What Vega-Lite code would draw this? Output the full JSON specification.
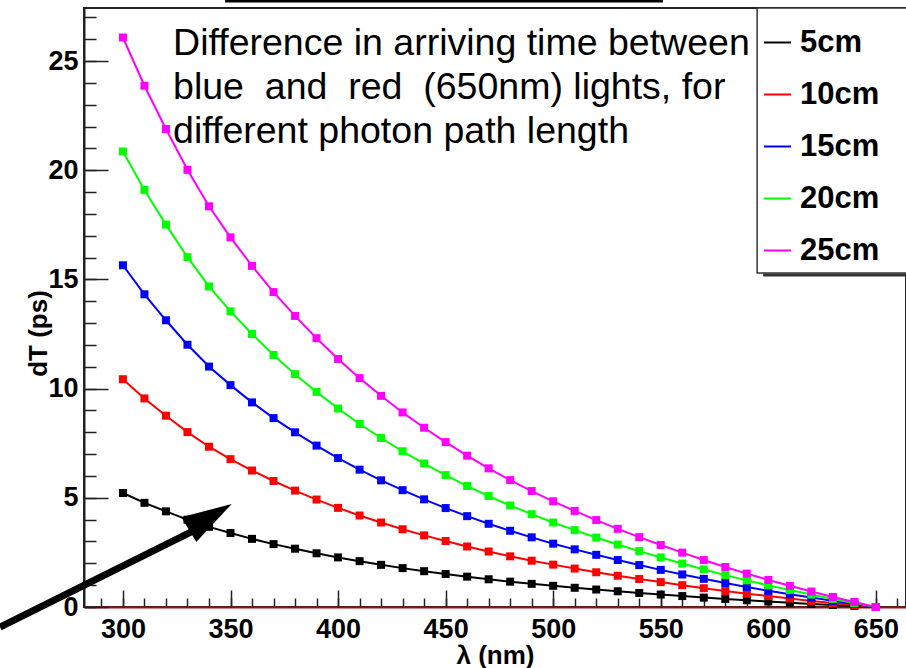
{
 "$schema": "https://vega.github.io/schema/vega-lite/v6.json",
 "width": 822,
 "height": 599,
 "autosize": {"type": "none"},
 "padding": {"left": 84, "top": 8, "right": 0, "bottom": 61},
 "background": "white",
 "config": {"view": {"stroke": "#222", "strokeWidth": 2}, "font": "Liberation Sans"},
 "datasets": {
  "curves": [
   {"lambda":300,"length":"5cm","dT":5.22},{"lambda":310,"length":"5cm","dT":4.77},{"lambda":320,"length":"5cm","dT":4.38},{"lambda":330,"length":"5cm","dT":4.00},{"lambda":340,"length":"5cm","dT":3.67},{"lambda":350,"length":"5cm","dT":3.39},{"lambda":360,"length":"5cm","dT":3.12},{"lambda":370,"length":"5cm","dT":2.88},{"lambda":380,"length":"5cm","dT":2.67},{"lambda":390,"length":"5cm","dT":2.46},{"lambda":400,"length":"5cm","dT":2.27},{"lambda":410,"length":"5cm","dT":2.10},{"lambda":420,"length":"5cm","dT":1.93},{"lambda":430,"length":"5cm","dT":1.78},{"lambda":440,"length":"5cm","dT":1.64},{"lambda":450,"length":"5cm","dT":1.51},{"lambda":460,"length":"5cm","dT":1.39},{"lambda":470,"length":"5cm","dT":1.27},{"lambda":480,"length":"5cm","dT":1.16},{"lambda":490,"length":"5cm","dT":1.06},{"lambda":500,"length":"5cm","dT":0.97},{"lambda":510,"length":"5cm","dT":0.88},{"lambda":520,"length":"5cm","dT":0.80},{"lambda":530,"length":"5cm","dT":0.72},{"lambda":540,"length":"5cm","dT":0.64},{"lambda":550,"length":"5cm","dT":0.57},{"lambda":560,"length":"5cm","dT":0.50},{"lambda":570,"length":"5cm","dT":0.43},{"lambda":580,"length":"5cm","dT":0.37},{"lambda":590,"length":"5cm","dT":0.31},{"lambda":600,"length":"5cm","dT":0.25},{"lambda":610,"length":"5cm","dT":0.19},{"lambda":620,"length":"5cm","dT":0.14},{"lambda":630,"length":"5cm","dT":0.09},{"lambda":640,"length":"5cm","dT":0.05},{"lambda":650,"length":"5cm","dT":0},
   {"lambda":300,"length":"10cm","dT":10.43},{"lambda":310,"length":"10cm","dT":9.55},{"lambda":320,"length":"10cm","dT":8.76},{"lambda":330,"length":"10cm","dT":8.01},{"lambda":340,"length":"10cm","dT":7.34},{"lambda":350,"length":"10cm","dT":6.77},{"lambda":360,"length":"10cm","dT":6.25},{"lambda":370,"length":"10cm","dT":5.77},{"lambda":380,"length":"10cm","dT":5.33},{"lambda":390,"length":"10cm","dT":4.92},{"lambda":400,"length":"10cm","dT":4.54},{"lambda":410,"length":"10cm","dT":4.19},{"lambda":420,"length":"10cm","dT":3.87},{"lambda":430,"length":"10cm","dT":3.56},{"lambda":440,"length":"10cm","dT":3.28},{"lambda":450,"length":"10cm","dT":3.02},{"lambda":460,"length":"10cm","dT":2.77},{"lambda":470,"length":"10cm","dT":2.54},{"lambda":480,"length":"10cm","dT":2.32},{"lambda":490,"length":"10cm","dT":2.12},{"lambda":500,"length":"10cm","dT":1.94},{"lambda":510,"length":"10cm","dT":1.76},{"lambda":520,"length":"10cm","dT":1.59},{"lambda":530,"length":"10cm","dT":1.43},{"lambda":540,"length":"10cm","dT":1.28},{"lambda":550,"length":"10cm","dT":1.14},{"lambda":560,"length":"10cm","dT":1.00},{"lambda":570,"length":"10cm","dT":0.86},{"lambda":580,"length":"10cm","dT":0.73},{"lambda":590,"length":"10cm","dT":0.61},{"lambda":600,"length":"10cm","dT":0.50},{"lambda":610,"length":"10cm","dT":0.39},{"lambda":620,"length":"10cm","dT":0.28},{"lambda":630,"length":"10cm","dT":0.18},{"lambda":640,"length":"10cm","dT":0.09},{"lambda":650,"length":"10cm","dT":0},
   {"lambda":300,"length":"15cm","dT":15.65},{"lambda":310,"length":"15cm","dT":14.32},{"lambda":320,"length":"15cm","dT":13.13},{"lambda":330,"length":"15cm","dT":12.01},{"lambda":340,"length":"15cm","dT":11.01},{"lambda":350,"length":"15cm","dT":10.16},{"lambda":360,"length":"15cm","dT":9.37},{"lambda":370,"length":"15cm","dT":8.65},{"lambda":380,"length":"15cm","dT":8.00},{"lambda":390,"length":"15cm","dT":7.39},{"lambda":400,"length":"15cm","dT":6.82},{"lambda":410,"length":"15cm","dT":6.29},{"lambda":420,"length":"15cm","dT":5.80},{"lambda":430,"length":"15cm","dT":5.35},{"lambda":440,"length":"15cm","dT":4.93},{"lambda":450,"length":"15cm","dT":4.53},{"lambda":460,"length":"15cm","dT":4.16},{"lambda":470,"length":"15cm","dT":3.81},{"lambda":480,"length":"15cm","dT":3.49},{"lambda":490,"length":"15cm","dT":3.19},{"lambda":500,"length":"15cm","dT":2.90},{"lambda":510,"length":"15cm","dT":2.64},{"lambda":520,"length":"15cm","dT":2.39},{"lambda":530,"length":"15cm","dT":2.15},{"lambda":540,"length":"15cm","dT":1.92},{"lambda":550,"length":"15cm","dT":1.70},{"lambda":560,"length":"15cm","dT":1.49},{"lambda":570,"length":"15cm","dT":1.29},{"lambda":580,"length":"15cm","dT":1.10},{"lambda":590,"length":"15cm","dT":0.92},{"lambda":600,"length":"15cm","dT":0.74},{"lambda":610,"length":"15cm","dT":0.58},{"lambda":620,"length":"15cm","dT":0.43},{"lambda":630,"length":"15cm","dT":0.28},{"lambda":640,"length":"15cm","dT":0.14},{"lambda":650,"length":"15cm","dT":0},
   {"lambda":300,"length":"20cm","dT":20.86},{"lambda":310,"length":"20cm","dT":19.10},{"lambda":320,"length":"20cm","dT":17.51},{"lambda":330,"length":"20cm","dT":16.02},{"lambda":340,"length":"20cm","dT":14.68},{"lambda":350,"length":"20cm","dT":13.54},{"lambda":360,"length":"20cm","dT":12.50},{"lambda":370,"length":"20cm","dT":11.54},{"lambda":380,"length":"20cm","dT":10.66},{"lambda":390,"length":"20cm","dT":9.85},{"lambda":400,"length":"20cm","dT":9.09},{"lambda":410,"length":"20cm","dT":8.38},{"lambda":420,"length":"20cm","dT":7.74},{"lambda":430,"length":"20cm","dT":7.13},{"lambda":440,"length":"20cm","dT":6.57},{"lambda":450,"length":"20cm","dT":6.04},{"lambda":460,"length":"20cm","dT":5.54},{"lambda":470,"length":"20cm","dT":5.08},{"lambda":480,"length":"20cm","dT":4.65},{"lambda":490,"length":"20cm","dT":4.25},{"lambda":500,"length":"20cm","dT":3.87},{"lambda":510,"length":"20cm","dT":3.52},{"lambda":520,"length":"20cm","dT":3.18},{"lambda":530,"length":"20cm","dT":2.86},{"lambda":540,"length":"20cm","dT":2.56},{"lambda":550,"length":"20cm","dT":2.27},{"lambda":560,"length":"20cm","dT":1.99},{"lambda":570,"length":"20cm","dT":1.72},{"lambda":580,"length":"20cm","dT":1.46},{"lambda":590,"length":"20cm","dT":1.22},{"lambda":600,"length":"20cm","dT":0.99},{"lambda":610,"length":"20cm","dT":0.78},{"lambda":620,"length":"20cm","dT":0.57},{"lambda":630,"length":"20cm","dT":0.37},{"lambda":640,"length":"20cm","dT":0.18},{"lambda":650,"length":"20cm","dT":0},
   {"lambda":300,"length":"25cm","dT":26.08},{"lambda":310,"length":"25cm","dT":23.87},{"lambda":320,"length":"25cm","dT":21.89},{"lambda":330,"length":"25cm","dT":20.02},{"lambda":340,"length":"25cm","dT":18.35},{"lambda":350,"length":"25cm","dT":16.93},{"lambda":360,"length":"25cm","dT":15.62},{"lambda":370,"length":"25cm","dT":14.42},{"lambda":380,"length":"25cm","dT":13.33},{"lambda":390,"length":"25cm","dT":12.31},{"lambda":400,"length":"25cm","dT":11.36},{"lambda":410,"length":"25cm","dT":10.48},{"lambda":420,"length":"25cm","dT":9.67},{"lambda":430,"length":"25cm","dT":8.91},{"lambda":440,"length":"25cm","dT":8.21},{"lambda":450,"length":"25cm","dT":7.55},{"lambda":460,"length":"25cm","dT":6.93},{"lambda":470,"length":"25cm","dT":6.35},{"lambda":480,"length":"25cm","dT":5.81},{"lambda":490,"length":"25cm","dT":5.31},{"lambda":500,"length":"25cm","dT":4.84},{"lambda":510,"length":"25cm","dT":4.40},{"lambda":520,"length":"25cm","dT":3.98},{"lambda":530,"length":"25cm","dT":3.58},{"lambda":540,"length":"25cm","dT":3.20},{"lambda":550,"length":"25cm","dT":2.84},{"lambda":560,"length":"25cm","dT":2.49},{"lambda":570,"length":"25cm","dT":2.15},{"lambda":580,"length":"25cm","dT":1.83},{"lambda":590,"length":"25cm","dT":1.53},{"lambda":600,"length":"25cm","dT":1.24},{"lambda":610,"length":"25cm","dT":0.97},{"lambda":620,"length":"25cm","dT":0.71},{"lambda":630,"length":"25cm","dT":0.46},{"lambda":640,"length":"25cm","dT":0.23},{"lambda":650,"length":"25cm","dT":0}
  ]
 },
 "resolve": {"axis": {"x": "independent", "y": "independent"}},
 "layer": [
  {
   "data": {"name": "curves"},
   "mark": {"type": "line", "strokeWidth": 2},
   "encoding": {
    "x": {"field": "lambda", "type": "quantitative",
     "scale": {"domain": [281.9, 664], "nice": false, "zero": false},
     "axis": {"orient": "bottom", "offset": -9, "values": [290,300,310,320,330,340,350,360,370,380,390,400,410,420,430,440,450,460,470,480,490,500,510,520,530,540,550,560,570,580,590,600,610,620,630,640,650,660],
      "tickSize": 9, "tickColor": "#222", "tickWidth": 1.5, "labels": false, "domain": false, "grid": false, "title": null}},
    "y": {"field": "dT", "type": "quantitative",
     "scale": {"domain": [0, 27.43], "nice": false, "zero": false},
     "axis": {"orient": "left", "offset": -12, "values": [0,1,2,3,4,5,6,7,8,9,10,11,12,13,14,15,16,17,18,19,20,21,22,23,24,25,26,27],
      "tickSize": 12, "tickColor": "#222", "tickWidth": 1.5, "labels": false, "domain": false, "grid": false, "title": null}},
    "color": {"field": "length", "type": "nominal",
     "scale": {"domain": ["5cm","10cm","15cm","20cm","25cm"], "range": ["#000000","#ff0000","#0000ff","#00ff00","#ff00ff"]},
     "legend": {"orient": "none", "legendX": 673, "legendY": 0, "title": " ", "titleFontSize": 1, "titlePadding": 13,
      "fillColor": null, "strokeColor": null,
      "padding": 5, "symbolType": "stroke", "symbolSize": 729, "symbolStrokeWidth": 2, "labelFontSize": 31, "labelFontWeight": "bold",
      "labelFont": "Liberation Sans", "labelColor": "black", "rowPadding": 20, "labelOffset": 7, "labelLimit": 400}}
   }
  },
  {
   "data": {"name": "curves"},
   "mark": {"type": "square", "size": 64, "filled": true, "opacity": 1},
   "encoding": {
    "x": {"field": "lambda", "type": "quantitative",
     "scale": {"domain": [281.9, 664], "nice": false, "zero": false},
     "axis": {"orient": "bottom", "values": [300,350,400,450,500,550,600,650], "ticks": false,
      "labelPadding": 9, "labelFontSize": 27, "labelFontWeight": "bold", "labelColor": "black", "labelFont": "Liberation Sans",
      "domain": true, "domainColor": "#9a1010", "domainWidth": 2, "grid": false,
      "title": "λ (nm)", "titleFontSize": 26, "titleFontWeight": "bold", "titleColor": "black", "titlePadding": 0, "titleFont": "Liberation Sans"}},
    "y": {"field": "dT", "type": "quantitative",
     "scale": {"domain": [0, 27.43], "nice": false, "zero": false},
     "axis": {"orient": "left", "values": [0,5,10,15,20,25], "ticks": false,
      "labelPadding": 6, "labelFontSize": 27, "labelFontWeight": "bold", "labelColor": "black", "labelFont": "Liberation Sans",
      "domain": true, "domainColor": "#222", "domainWidth": 2, "grid": false,
      "title": "dT (ps)", "titleFontSize": 26, "titleFontWeight": "bold", "titleColor": "black", "titleFont": "Liberation Sans",
      "titleX": -33, "titleY": 325, "titleAngle": -90, "titleBaseline": "bottom", "titleAlign": "center"}},
    "color": {"field": "length", "type": "nominal",
     "scale": {"domain": ["5cm","10cm","15cm","20cm","25cm"], "range": ["#000000","#ff0000","#0000ff","#00ff00","#ff00ff"]},
     "legend": null}
   }
  },
  {
   "data": {"values": [{"note": "arrow shaft"}]},
   "mark": {"type": "rule", "strokeWidth": 7, "color": "black", "clip": false},
   "encoding": {
    "x": {"datum": 242.85, "type": "quantitative", "axis": null},
    "x2": {"datum": 332},
    "y": {"datum": -0.92, "type": "quantitative", "axis": null},
    "y2": {"datum": 3.45}
   }
  },
  {
   "data": {"values": [{"note": "arrow head"}]},
   "mark": {"type": "point", "shape": "M0,-1L0.58,1L-0.58,1Z", "size": 2500, "angle": 59, "filled": true, "color": "black", "opacity": 1, "clip": false},
   "encoding": {
    "x": {"datum": 340.6, "type": "quantitative", "axis": null},
    "y": {"datum": 4.13, "type": "quantitative", "axis": null}
   }
  },
  {
   "data": {"values": [{"note": "legend shadow"}]},
   "mark": {"type": "rule", "strokeWidth": 3, "color": "#333", "clip": false},
   "encoding": {
    "x": {"datum": 597.6, "type": "quantitative", "axis": null},
    "x2": {"datum": 670},
    "y": {"datum": 15.2, "type": "quantitative", "axis": null}
   }
  },
  {
   "data": {"values": [{"note": "legend box"}]},
   "mark": {"type": "rect", "fill": "white", "stroke": "#333", "strokeWidth": 1.5, "clip": false},
   "encoding": {
    "x": {"datum": 594.8, "type": "quantitative", "axis": null},
    "x2": {"datum": 670},
    "y": {"datum": 27.43, "type": "quantitative", "axis": null},
    "y2": {"datum": 15.29}
   }
  },
  {
   "data": {"values": [{"note": "annotation"}]},
   "mark": {"type": "text", "align": "left", "baseline": "alphabetic", "fontSize": 37.5, "lineHeight": 44, "font": "Liberation Sans", "color": "black",
    "text": ["Difference in arriving time between", "blue\u00a0 and\u00a0 red\u00a0 (650nm) lights, for", "different photon path length"]},
   "encoding": {
    "x": {"datum": 323.3, "type": "quantitative",
     "axis": {"orient": "bottom", "offset": -17, "values": [300,350,400,450,500,550,600,650], "tickSize": 17, "tickColor": "#222", "tickWidth": 1.5,
      "labels": false, "domain": false, "grid": false, "title": null}},
    "y": {"datum": 25.3, "type": "quantitative",
     "axis": {"orient": "left", "offset": -24, "values": [0,5,10,15,20,25], "tickSize": 24, "tickColor": "#222", "tickWidth": 1.5,
      "labels": false, "domain": false, "grid": false, "title": null}}
   }
  },
  {
   "data": {"values": [{"note": "title box"}]},
   "mark": {"type": "rule", "strokeWidth": 3, "color": "black", "clip": false},
   "encoding": {
    "x": {"datum": 347.5, "type": "quantitative", "axis": null},
    "x2": {"datum": 551},
    "y": {"datum": 27.75, "type": "quantitative", "axis": null}
   }
  }
 ]
}
